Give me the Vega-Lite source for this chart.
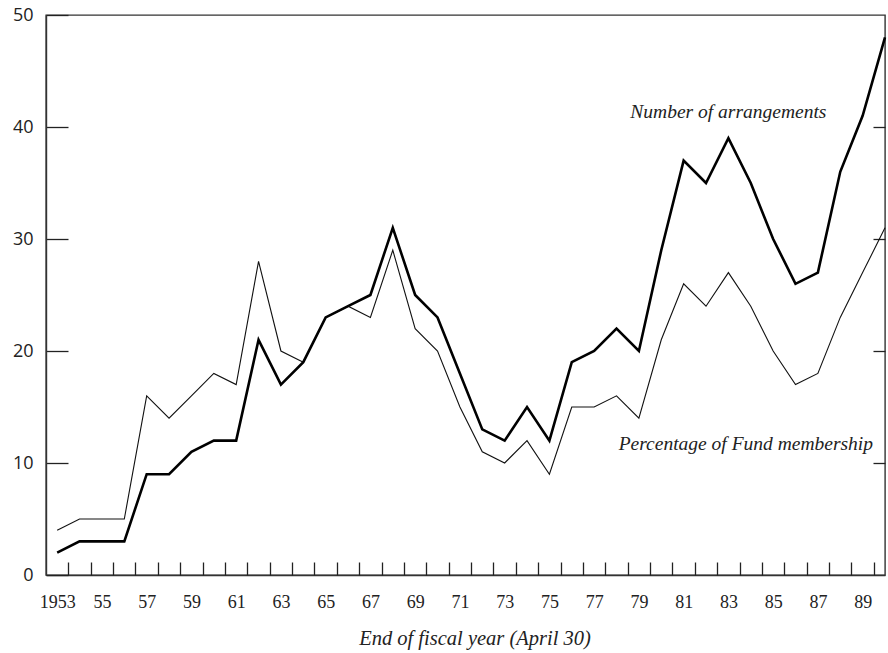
{
  "$schema": "https://vega.github.io/schema/vega-lite/v6.json",
  "autosize": {"type": "none"},
  "width": 839,
  "height": 560,
  "padding": {"left": 46, "top": 15, "right": 3, "bottom": 78},
  "background": "white",
  "config": {
    "view": {"stroke": "#333", "strokeWidth": 1.4},
    "axis": {"grid": false, "domainColor": "#333", "tickColor": "#222", "labelColor": "#222", "titleColor": "#222", "labelFont": "Liberation Serif", "titleFont": "Liberation Serif", "labelFontSize": 18, "titleFontSize": 20.5, "titleFontWeight": "normal", "titleFontStyle": "italic"}
  },
  "datasets": {
    "series": [
      {"year": 1953, "arr": 2, "pct": 4},
      {"year": 1954, "arr": 3, "pct": 5},
      {"year": 1955, "arr": 3, "pct": 5},
      {"year": 1956, "arr": 3, "pct": 5},
      {"year": 1957, "arr": 9, "pct": 16},
      {"year": 1958, "arr": 9, "pct": 14},
      {"year": 1959, "arr": 11, "pct": 16},
      {"year": 1960, "arr": 12, "pct": 18},
      {"year": 1961, "arr": 12, "pct": 17},
      {"year": 1962, "arr": 21, "pct": 28},
      {"year": 1963, "arr": 17, "pct": 20},
      {"year": 1964, "arr": 19, "pct": 19},
      {"year": 1965, "arr": 23, "pct": 23},
      {"year": 1966, "arr": 24, "pct": 24},
      {"year": 1967, "arr": 25, "pct": 23},
      {"year": 1968, "arr": 31, "pct": 29},
      {"year": 1969, "arr": 25, "pct": 22},
      {"year": 1970, "arr": 23, "pct": 20},
      {"year": 1971, "arr": 18, "pct": 15},
      {"year": 1972, "arr": 13, "pct": 11},
      {"year": 1973, "arr": 12, "pct": 10},
      {"year": 1974, "arr": 15, "pct": 12},
      {"year": 1975, "arr": 12, "pct": 9},
      {"year": 1976, "arr": 19, "pct": 15},
      {"year": 1977, "arr": 20, "pct": 15},
      {"year": 1978, "arr": 22, "pct": 16},
      {"year": 1979, "arr": 20, "pct": 14},
      {"year": 1980, "arr": 29, "pct": 21},
      {"year": 1981, "arr": 37, "pct": 26},
      {"year": 1982, "arr": 35, "pct": 24},
      {"year": 1983, "arr": 39, "pct": 27},
      {"year": 1984, "arr": 35, "pct": 24},
      {"year": 1985, "arr": 30, "pct": 20},
      {"year": 1986, "arr": 26, "pct": 17},
      {"year": 1987, "arr": 27, "pct": 18},
      {"year": 1988, "arr": 36, "pct": 23},
      {"year": 1989, "arr": 41, "pct": 27},
      {"year": 1990, "arr": 48, "pct": 31}
    ],
    "labels": [
      {"year": 1983, "value": 41.3, "label": "Number of arrangements"},
      {"year": 1983.78, "value": 11.7, "label": "Percentage of Fund membership"}
    ]
  },
  "resolve": {"axis": {"x": "independent", "y": "independent"}},
  "layer": [
    {
      "data": {"name": "series"},
      "mark": {"type": "line", "color": "#111", "strokeWidth": 1.1},
      "encoding": {
        "x": {"field": "year", "type": "quantitative", "scale": {"domain": [1952.5, 1990], "nice": false, "zero": false},
          "axis": {"orient": "bottom", "values": [1953,1955,1957,1959,1961,1963,1965,1967,1969,1971,1973,1975,1977,1979,1981,1983,1985,1987,1989], "ticks": false, "domain": true, "domainWidth": 1.4, "labelPadding": 18, "labelExpr": "datum.value == 1953 ? '1953' : substring(toString(datum.value), 2)", "title": "End of fiscal year (April 30)", "titlePadding": 17, "titleX": 428.5}},
        "y": {"field": "pct", "type": "quantitative", "scale": {"domain": [0, 50], "nice": false},
          "axis": {"orient": "left", "values": [0,10,20,30,40,50], "tickSize": -22, "tickWidth": 1.3, "labelPadding": 35, "labelFont": "Open Sans", "labelFontSize": 18, "domain": true, "domainWidth": 1.4, "title": null}}
      }
    },
    {
      "data": {"name": "series"},
      "mark": {"type": "line", "color": "#000", "strokeWidth": 2.6},
      "encoding": {
        "x": {"field": "year", "type": "quantitative",
          "axis": {"orient": "bottom", "values": [1953.5,1954.5,1955.5,1956.5,1957.5,1958.5,1959.5,1960.5,1961.5,1962.5,1963.5,1964.5,1965.5,1966.5,1967.5,1968.5,1969.5,1970.5,1971.5,1972.5,1973.5,1974.5,1975.5,1976.5,1977.5,1978.5,1979.5,1980.5,1981.5,1982.5,1983.5,1984.5,1985.5,1986.5,1987.5,1988.5,1989.5], "labels": false, "domain": false, "tickSize": -13, "tickWidth": 1.3, "title": null}},
        "y": {"field": "arr", "type": "quantitative",
          "axis": {"orient": "right", "values": [10,20,30,40], "labels": false, "domain": false, "tickSize": -12, "tickWidth": 1.3, "title": null}}
      }
    },
    {
      "data": {"name": "labels"},
      "mark": {"type": "text", "font": "Liberation Serif", "fontStyle": "italic", "fontSize": 19.5, "color": "#222", "align": "center", "baseline": "middle"},
      "encoding": {
        "x": {"field": "year", "type": "quantitative", "axis": null},
        "y": {"field": "value", "type": "quantitative", "axis": null},
        "text": {"field": "label"}
      }
    }
  ]
}
